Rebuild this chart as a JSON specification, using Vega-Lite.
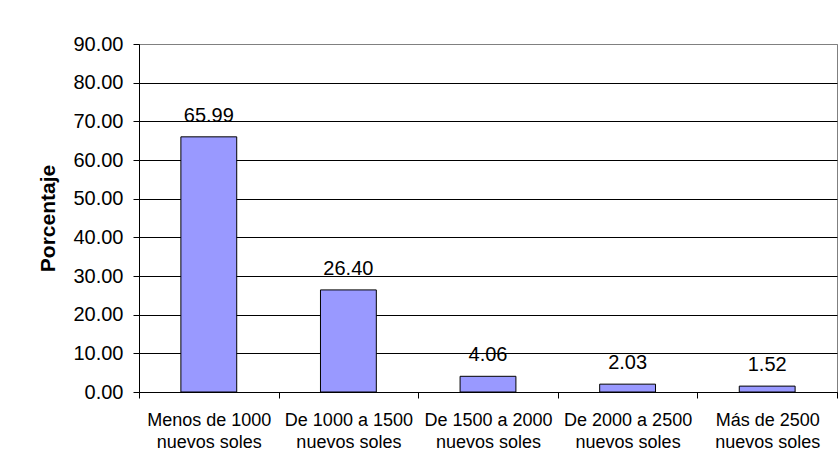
{
  "$schema": "https://vega.github.io/schema/vega-lite/v6.json",
  "width": 698,
  "height": 348,
  "autosize": {"type": "none"},
  "padding": {"left": 139, "top": 44, "right": 3, "bottom": 83},
  "background": "#ffffff",
  "config": {
    "font": "Liberation Sans",
    "view": {"stroke": "#808080", "strokeWidth": 1}
  },
  "data": {
    "values": [
      {"categoria": "Menos de 1000|nuevos soles", "porcentaje": 65.99},
      {"categoria": "De 1000 a 1500|nuevos soles", "porcentaje": 26.40},
      {"categoria": "De 1500 a 2000|nuevos soles", "porcentaje": 4.06},
      {"categoria": "De 2000 a 2500|nuevos soles", "porcentaje": 2.03},
      {"categoria": "Más de 2500|nuevos soles", "porcentaje": 1.52}
    ]
  },
  "encoding": {
    "x": {
      "field": "categoria",
      "type": "nominal",
      "sort": null,
      "scale": {"paddingInner": 0, "paddingOuter": 0},
      "axis": {
        "title": null,
        "labelExpr": "split(datum.label, '|')",
        "labelAngle": 0,
        "labelFont": "Liberation Sans",
        "labelFontSize": 18,
        "labelColor": "#000000",
        "labelLineHeight": 22,
        "labelBaseline": "top",
        "labelPadding": 13,
        "labelLimit": 200,
        "tickBand": "extent",
        "tickSize": 6,
        "tickColor": "#000000",
        "domainColor": "#000000",
        "grid": false
      }
    },
    "y": {
      "field": "porcentaje",
      "type": "quantitative",
      "scale": {"domain": [0, 90], "nice": false, "zero": true},
      "axis": {
        "title": "Porcentaje",
        "titleFont": "Liberation Sans",
        "titleFontSize": 21,
        "titleFontWeight": "bold",
        "titleColor": "#000000",
        "titleAngle": -90,
        "titleAlign": "center",
        "titleBaseline": "alphabetic",
        "titleX": -85,
        "titleY": 174,
        "values": [0, 10, 20, 30, 40, 50, 60, 70, 80, 90],
        "format": ".2f",
        "labelFont": "Liberation Sans",
        "labelFontSize": 20,
        "labelColor": "#000000",
        "labelPadding": 10,
        "tickSize": 6,
        "tickColor": "#000000",
        "domainColor": "#000000",
        "grid": true,
        "gridColor": {"condition": {"test": "datum.value === 90", "value": "#808080"}, "value": "#000000"},
        "gridOpacity": 1,
        "gridWidth": 1
      }
    }
  },
  "layer": [
    {
      "mark": {"type": "bar", "fill": "#9999FF", "stroke": "#000000", "strokeWidth": 1, "width": {"band": 0.4}}
    },
    {
      "mark": {"type": "text", "font": "Liberation Sans", "fontSize": 20, "color": "#000000", "baseline": "alphabetic", "dy": -15},
      "encoding": {
        "text": {"field": "porcentaje", "type": "quantitative", "format": ".2f"}
      }
    }
  ]
}
